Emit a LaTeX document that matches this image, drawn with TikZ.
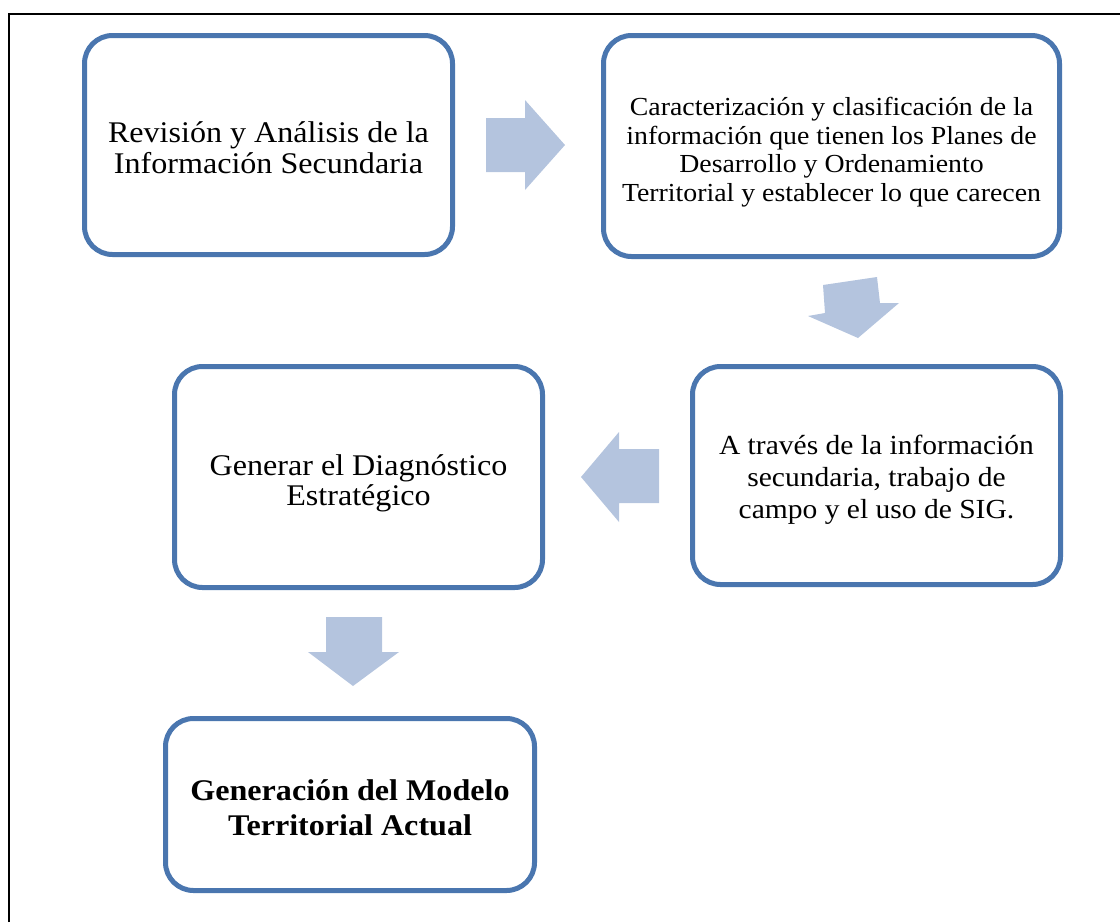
\documentclass[tikz,border=0pt]{standalone}
\usepackage{fontspec}
\setmainfont[FakeStretch=1.07]{Liberation Serif}
\definecolor{boxblue}{RGB}{74,118,175}
\definecolor{arrowblue}{RGB}{180,196,222}
\begin{document}
\begin{tikzpicture}[x=1pt,y=-1pt,
  stepbox/.style={draw=boxblue,line width=5pt,rounded corners=28pt,inner sep=0pt},
  steptext/.style={align=center,inner sep=0pt,text=black},
  blockarrow/.style={fill=arrowblue,draw=none}]
\useasboundingbox (0,0) rectangle (1120,922);
\draw[line width=1.8pt] (9,922) -- (9,14) -- (1120,14);
\node[stepbox,minimum width=368pt,minimum height=219pt] (b1) at (268.5,145) {};
\node[stepbox,minimum width=456pt,minimum height=221pt] (b2) at (831.5,146) {};
\node[stepbox,minimum width=368pt,minimum height=218pt] (b3) at (876.5,475.5) {};
\node[stepbox,minimum width=368pt,minimum height=221pt] (b4) at (358.5,477) {};
\node[stepbox,minimum width=369pt,minimum height=172pt] (b5) at (350,804.5) {};
\node[steptext,font=\fontsize{30}{31}\selectfont,yshift=-2.8pt] (t1) at (b1.center)
  {Revisión y Análisis de la\\Información Secundaria};
\node[steptext,font=\fontsize{26}{28.6}\selectfont,yshift=-6pt] (t2) at (b2.center)
  {Caracterización y clasificación de la\\información que tienen los Planes de\\Desarrollo y Ordenamiento\\Territorial y establecer lo que carecen};
\node[steptext,font=\fontsize{27.6}{32}\selectfont,yshift=-4pt] (t3) at (b3.center)
  {A través de la información\\secundaria, trabajo de\\campo y el uso de SIG.};
\node[steptext,font=\fontsize{30}{29.5}\selectfont,yshift=-6.5pt] (t4) at (b4.center)
  {Generar el Diagnóstico\\Estratégico};
\node[steptext,font=\bfseries\fontsize{30}{35}\selectfont,yshift=-3pt] (t5) at (b5.center)
  {Generación del Modelo\\Territorial Actual};
% block arrows
\fill[blockarrow] (486,118) -- (525,118) -- (525,100) -- (565,145) -- (525,190) -- (525,172) -- (486,172) -- cycle;
\fill[blockarrow] (823,285) -- (877,277) -- (880,303) -- (899,303) -- (858,338) -- (808,316) -- (825,313) -- cycle;
\fill[blockarrow] (659,449) -- (619,449) -- (619,432) -- (581,477) -- (619,522) -- (619,503) -- (659,503) -- cycle;
\fill[blockarrow] (326,617) -- (382,617) -- (382,652) -- (399,652) -- (353,686) -- (308,652) -- (326,652) -- cycle;
\end{tikzpicture}
\end{document}
